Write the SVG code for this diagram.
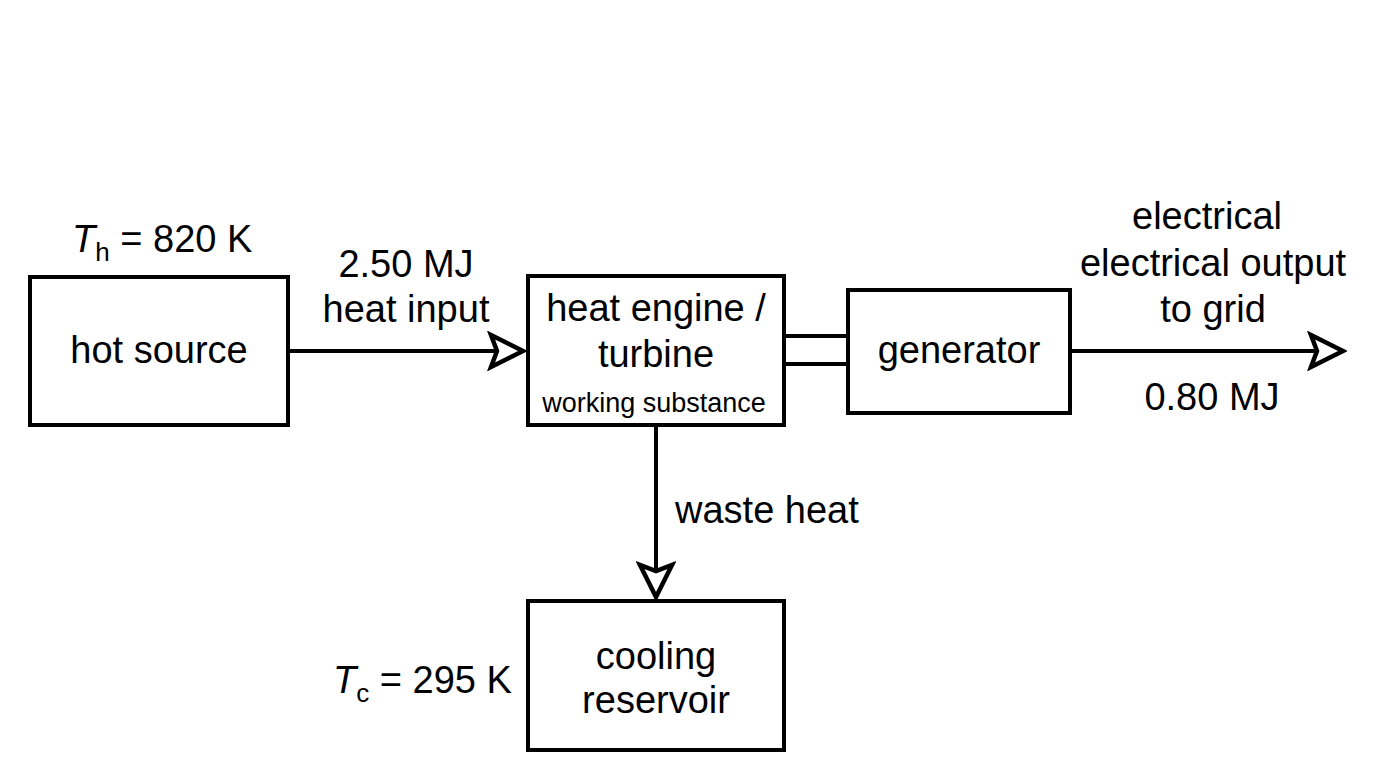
<svg xmlns="http://www.w3.org/2000/svg" width="1376" height="768" viewBox="0 0 1376 768">
<defs>
<style>
.box{fill:#fff;stroke:#000;stroke-width:4}
.t{font-family:"Liberation Sans",Arial,sans-serif;font-size:38px;fill:#000}
.c{text-anchor:middle}
.s{font-size:27px}
.ln{stroke:#000;stroke-width:4;fill:none}
</style>
<marker id="open" viewBox="-38 -20 42 40" refX="0" refY="0" markerWidth="42" markerHeight="40" markerUnits="userSpaceOnUse" orient="auto">
<path d="M0,0 L-32,-16 L-26,0 L-32,16 Z" fill="#fff" stroke="#000" stroke-width="4.5" stroke-linejoin="miter"/>
</marker>
</defs>
<rect width="1376" height="768" fill="#fff"/>
<g id="connectors">
<line class="ln" x1="288" y1="351" x2="523" y2="351" marker-end="url(#open)"/>
<line class="ln" x1="784" y1="336" x2="848" y2="336"/>
<line class="ln" x1="784" y1="364" x2="848" y2="364"/>
<line class="ln" x1="1070" y1="351" x2="1343" y2="351" marker-end="url(#open)"/>
<line class="ln" x1="656" y1="425" x2="656" y2="597" marker-end="url(#open)"/>
</g>
<g id="hot-source">
<rect class="box" x="30" y="277" width="258" height="148"/>
<text class="t c" x="159" y="363">hot source</text>
<text class="t" x="72" y="252"><tspan font-style="italic">T</tspan><tspan font-size="26" dy="9">h</tspan><tspan dy="-9"> = 820 K</tspan></text>
</g>
<g id="heat-input-label">
<text class="t c" x="406" y="277">2.50 MJ</text>
<text class="t c" x="406" y="322">heat input</text>
</g>
<g id="heat-engine">
<rect class="box" x="528" y="276" width="256" height="149"/>
<text class="t c" x="656" y="321">heat engine /</text>
<text class="t c" x="656" y="367">turbine</text>
<text class="t c s" x="654" y="412">working substance</text>
</g>
<g id="generator">
<rect class="box" x="848" y="290" width="222" height="123"/>
<text class="t c" x="959" y="363">generator</text>
</g>
<g id="output-label">
<text class="t c" x="1207" y="229">electrical</text>
<text class="t c" x="1213" y="276">electrical output</text>
<text class="t c" x="1213" y="322">to grid</text>
<text class="t c" x="1212" y="410">0.80 MJ</text>
</g>
<g id="waste-heat-label">
<text class="t" x="675" y="523">waste heat</text>
</g>
<g id="cooling-reservoir">
<rect class="box" x="528" y="601" width="256" height="149"/>
<text class="t c" x="656" y="669">cooling</text>
<text class="t c" x="656" y="713">reservoir</text>
<text class="t" x="333" y="693"><tspan font-style="italic">T</tspan><tspan font-size="26" dy="9">c</tspan><tspan dy="-9"> = 295 K</tspan></text>
</g>
</svg>
